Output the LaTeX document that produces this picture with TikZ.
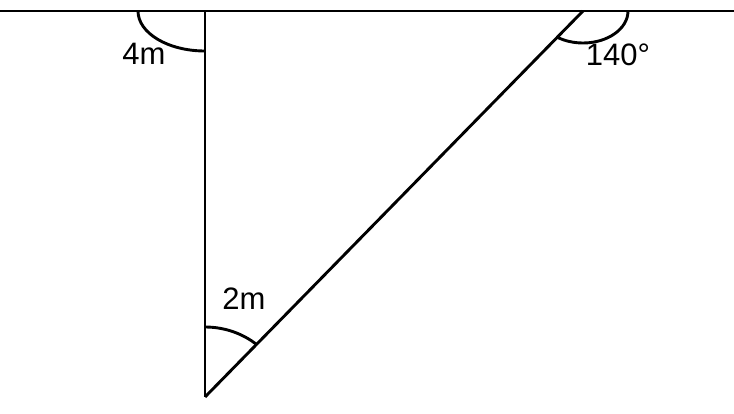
\documentclass[tikz,border=0pt]{standalone}
\usepackage{fontspec}
\setmainfont{Liberation Sans}
\begin{document}
\begin{tikzpicture}[x=1pt,y=1pt,
  edge/.style={line width=2.9pt,line cap=butt},
  lbl/.style={font=\fontsize{31}{36}\selectfont,inner sep=0pt}]
\useasboundingbox (0,0) rectangle (734,413);
\coordinate (L) at (0,402);
\coordinate (R) at (734,402);
\coordinate (A) at (205,402);
\coordinate (B) at (583,402);
\coordinate (C) at (205,16);
\draw[edge] (L) -- (R);
\draw[edge] (A) -- (C);
\draw[edge] (B) -- (C);
% angle arcs
\draw[edge] ([xshift=-67pt]A) arc[start angle=180,end angle=270,x radius=67pt,y radius=40pt];
\draw[edge] ([xshift=45pt]B) arc[start angle=0,end angle=-124.9,x radius=45pt,y radius=32pt];
\draw[edge] ([yshift=70pt]C) arc[start angle=90,end angle=48.7,x radius=78pt,y radius=70pt];
% labels
\node[lbl] (l4m) at (144,359) {4m};
\node[lbl] (l140) at (618,358) {140°};
\node[lbl] (l2m) at (244,114) {2m};
\end{tikzpicture}
\end{document}
